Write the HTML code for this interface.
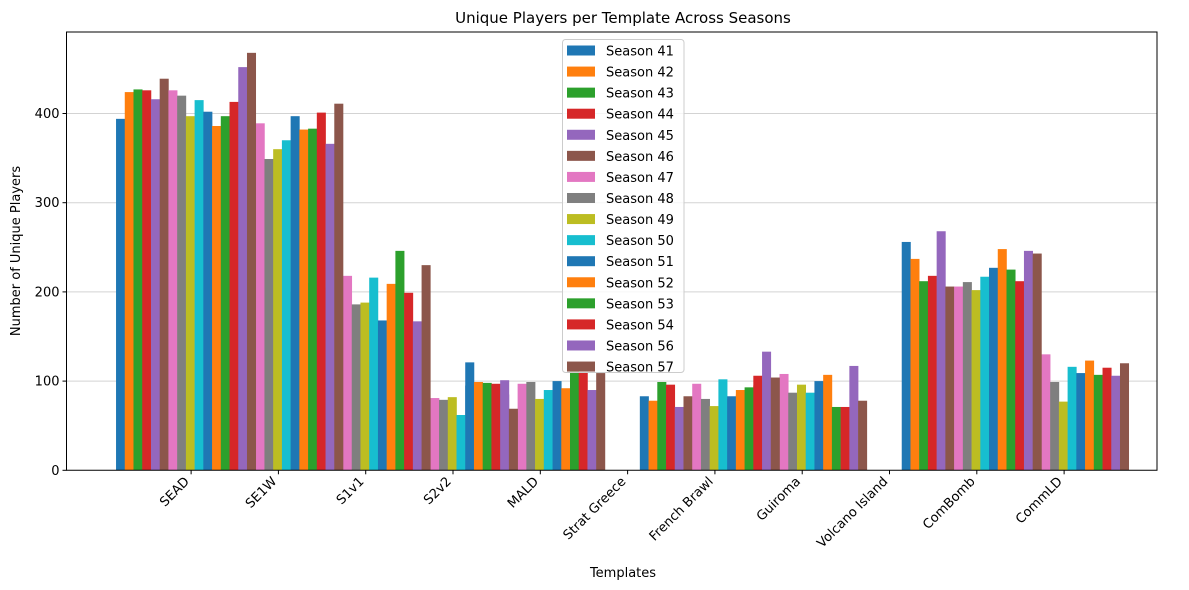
<!DOCTYPE html>
<html><head><meta charset="utf-8"><style>
html,body{margin:0;padding:0;background:#fff;}
svg{display:block;font-family:"DejaVu Sans","Liberation Sans",sans-serif;}
</style></head><body>
<svg id="chart" width="1189" height="590" viewBox="0 0 1189 590" xmlns="http://www.w3.org/2000/svg">
<rect width="1189" height="590" fill="#fff"/>
<text x="623" y="23" text-anchor="middle" font-size="15" fill="#000">Unique Players per Template Across Seasons</text>
<g id="grid"></g>
<g id="bars"></g>
<g id="axes"></g>
<g id="legend"></g>
<text x="623" y="577" text-anchor="middle" font-size="13" fill="#000">Templates</text>
<text transform="translate(20,251) rotate(-90)" text-anchor="middle" font-size="13" fill="#000">Number of Unique Players</text>
</svg>
<script>
const templates = ["SEAD","SE1W","S1v1","S2v2","MALD","Strat Greece","French Brawl","Guiroma","Volcano Island","ComBomb","CommLD"];
const seasons = ["Season 41","Season 42","Season 43","Season 44","Season 45","Season 46","Season 47","Season 48","Season 49","Season 50","Season 51","Season 52","Season 53","Season 54","Season 56","Season 57"];
const yTicks = [0,100,200,300,400];
// values per template, one per season in `seasons` order (16 seasons)
const sead = [394,424,427,426,416,439,426,420,397,415,402,386,397,413,452,468];
const se1w = [380,375,385,390,400,410,389,349,360,370,397,382,383,401,366,411];
const s1v1 = [200,190,210,205,195,215,218,186,188,216,168,209,246,199,167,230];
const s2v2 = [80,75,85,70,78,65,81,79,82,62,121,99,98,97,101,69];
const mald = [95,90,88,92,85,65,97,99,80,90,100,92,111,110,90,109];
const stratGreece = [0,0,0,0,0,0,0,0,0,0,0,0,0,0,0,0];
const frenchBrawl = [83,78,99,96,71,83,97,80,72,102,83,90,93,106,133,104];
const guiroma = [80,85,90,95,100,90,108,87,96,87,100,107,71,71,117,78];
const volcanoIsland = [0,0,0,0,0,0,0,0,0,0,0,0,0,0,0,0];
const comBomb = [256,237,212,218,268,206,206,211,202,217,227,248,225,212,246,243];
const commLD = [120,115,110,118,112,125,130,99,77,116,109,123,107,115,106,120];
const values = [sead,se1w,s1v1,s2v2,mald,stratGreece,frenchBrawl,guiroma,volcanoIsland,comBomb,commLD];

const colors = ["#1f77b4","#ff7f0e","#2ca02c","#d62728","#9467bd","#8c564b","#e377c2","#7f7f7f","#bcbd22","#17becf"];
const NS = "http://www.w3.org/2000/svg";
const L=66.5, R=1157, T=32, B=470.3;
const unit=87.3, x0=120.4, barW=0.1, tickOff=0.81;
const xScale = u => x0 + u*unit;
const yScale = v => B - v*0.892;
function mk(tag, attrs, parent){const e=document.createElementNS(NS,tag);for(const k in attrs)e.setAttribute(k,attrs[k]);parent.appendChild(e);return e;}

const grid=document.getElementById('grid'), bars=document.getElementById('bars'), axes=document.getElementById('axes'), legend=document.getElementById('legend');
yTicks.forEach(v=>{
  if(v>0){const g=mk('line',{x1:L,x2:R,y1:yScale(v),y2:yScale(v),stroke:'#d3d3d3','stroke-width':1},grid);
  
  }
  const t=mk('line',{x1:L-4,x2:L,y1:yScale(v),y2:yScale(v),stroke:'#000','stroke-width':1},axes);
  
  
  const lb=mk('text',{x:L-7,y:yScale(v)+4.5,'text-anchor':'end','font-size':13,fill:'#000'},axes);
  lb.textContent=v;
  
  
});
for(let s=0;s<16;s++){
  for(let t=0;t<templates.length;t++){
    const v=values[t][s];
    const cx=xScale(t+s*barW);
    const r=mk('rect',{x:cx-barW*unit/2,y:yScale(v),width:barW*unit+0.3,height:Math.max(0,B-yScale(v)),fill:colors[s%10]},bars);
    
    
  }
}
const frame=mk('path',{d:`M${L},${T}H${R}V${B}H${L}Z`,fill:'none',stroke:'#000','stroke-width':1},axes);


templates.forEach((name,t)=>{
  const tx=xScale(t+tickOff);
  const tk=mk('line',{x1:tx,x2:tx,y1:B,y2:B+4,stroke:'#000','stroke-width':1},axes);
  
  
  const lb=mk('text',{transform:`translate(${tx-8},${B+5}) rotate(-45)`,'text-anchor':'end',dy:'0.75em','font-size':13,fill:'#000'},axes);
  lb.textContent=name;
  
  
});
const box=mk('rect',{x:562.5,y:39.5,width:121.5,height:333,rx:3,fill:'#fff','fill-opacity':0.8,stroke:'#ccc','stroke-width':1},legend);


seasons.forEach((s,i)=>{
  const y=50.5+i*21.07;
  const p=mk('rect',{x:567,y:y-5,width:28,height:10,fill:colors[i%10]},legend);
  
  
  const tx=mk('text',{x:606,y:y+5,'font-size':13,fill:'#000'},legend);
  tx.textContent=s;
  
  
});
</script>
</body></html>
